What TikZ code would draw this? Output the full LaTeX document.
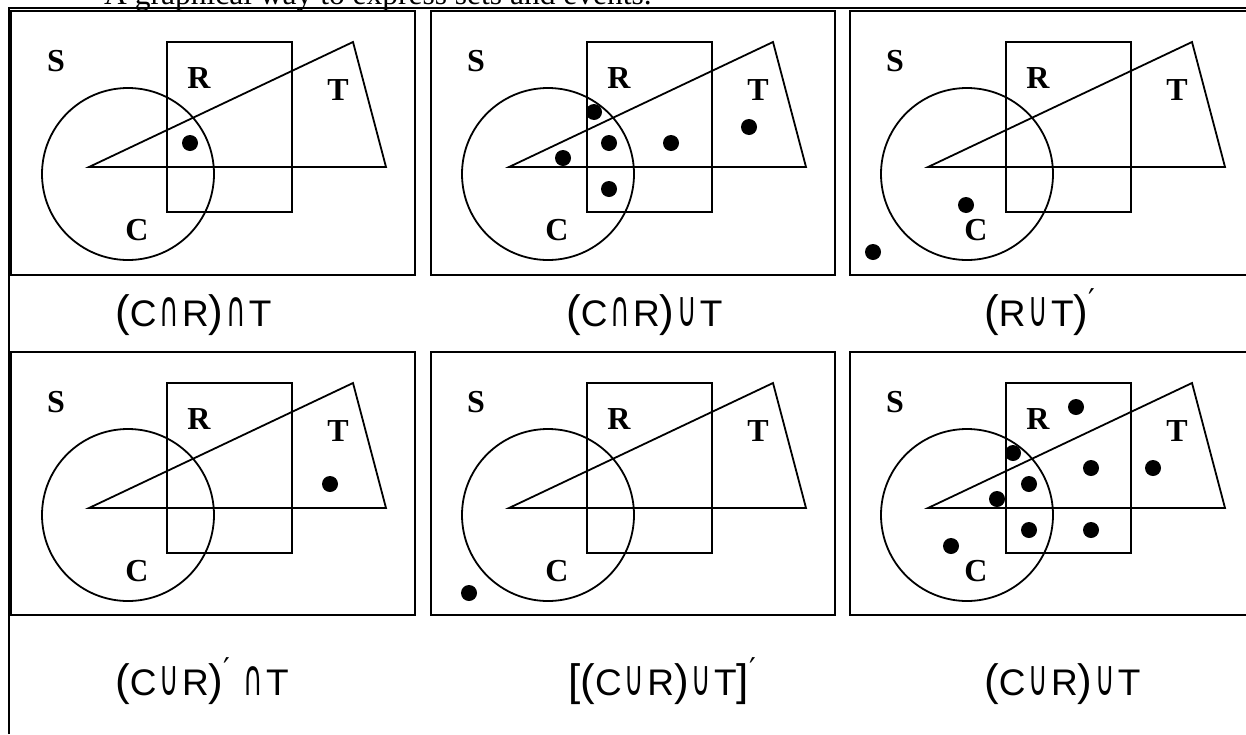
\documentclass[tikz,border=0pt]{standalone}
\usepackage{graphicx}
\usepackage{fontspec}
\setmainfont{Liberation Serif}
\newfontfamily\labfont{Liberation Sans}
\newfontfamily\symfont{DejaVu Sans}
\newcommand{\capx}{\hspace{3pt}\scalebox{0.72}[1.35]{\symfont ∩}\hspace{3pt}}
\newcommand{\cupx}{\hspace{3pt}\scalebox{0.72}[1.35]{\symfont ∪}\hspace{3pt}}
\newcommand{\lpx}{{\fontsize{44}{44}\selectfont(}}
\newcommand{\rpx}{{\fontsize{44}{44}\selectfont)}}
\newcommand{\lbx}{{\fontsize{44}{44}\selectfont[}}
\newcommand{\rbx}{{\fontsize{44}{44}\selectfont]}}
\newcommand{\primex}{\raisebox{0.42em}{\symfont\fontsize{30}{30}\selectfont ′}}
\tikzset{
  shapeline/.style={line width=1.8pt, line join=miter},
  framebox/.style={line width=2.5pt},
  tableline/.style={line width=1.6pt},
  setlab/.style={font=\fontsize{32}{32}\selectfont\bfseries, inner sep=0pt},
  exprlab/.style={font=\labfont\fontsize{37}{37}\selectfont, anchor=base west, inner sep=0pt},
  dot/.style={fill=black},
}
\newcommand{\vennbase}[3]{%
  \begin{scope}[shift={(#2,#3)}]
    \draw[shapeline] (167,42) rectangle (292,212);
    \draw[shapeline] (128,174) circle (86);
    \draw[shapeline] (89,167) -- (353,42) -- (386,167) -- cycle;
    \node[setlab] (#1S) at (56,61) {S};
    \node[setlab] (#1R) at (199,78) {R};
    \node[setlab] (#1T) at (338,90) {T};
    \node[setlab] (#1C) at (137,230) {C};
  \end{scope}}
\begin{document}
\begin{tikzpicture}[x=1pt,y=-1pt]
\useasboundingbox (0,0) rectangle (1246,734);
% heading, mostly cut off at the top
\node[font=\fontsize{31.5}{31.5}\selectfont, anchor=base west, inner sep=0pt] (title) at (104,4) {A graphical way to express sets and events.};
% table border
\draw[tableline] (9,734) -- (9,8) -- (1260,8);
% frames
\draw[framebox] (11,11) rectangle (415,275);
\draw[framebox] (431,11) rectangle (835,275);
\draw[framebox] (850,11) rectangle (1258,275);
\draw[framebox] (11,352) rectangle (415,615);
\draw[framebox] (431,352) rectangle (835,615);
\draw[framebox] (850,352) rectangle (1258,615);
% diagrams
\vennbase{a}{0}{0}
\vennbase{b}{420}{0}
\vennbase{c}{839}{0}
\vennbase{d}{0}{341}
\vennbase{e}{420}{341}
\vennbase{f}{839}{341}
% dots
\begin{scope}
  \fill[dot] (190,143) circle (8);
\end{scope}
\begin{scope}[shift={(420,0)}]
  \foreach \p in {(174,112),(143,158),(189,143),(251,143),(329,127),(189,189)}
    \fill[dot] \p circle (8);
\end{scope}
\begin{scope}[shift={(839,0)}]
  \foreach \p in {(127,205),(34,252)}
    \fill[dot] \p circle (8);
\end{scope}
\begin{scope}[shift={(0,341)}]
  \fill[dot] (330,143) circle (8);
\end{scope}
\begin{scope}[shift={(420,341)}]
  \fill[dot] (49,252) circle (8);
\end{scope}
\begin{scope}[shift={(839,341)}]
  \foreach \p in {(237,66),(174,112),(252,127),(314,127),(190,143),(158,158),(190,189),(252,189),(112,205)}
    \fill[dot] \p circle (8);
\end{scope}
% expressions
\node[exprlab] (e1) at (115,326) {\lpx C\capx R\rpx\capx T};
\node[exprlab] (e2) at (566,326) {\lpx C\capx R\rpx\cupx T};
\node[exprlab] (e3) at (984,326) {\lpx R\cupx T\rpx\primex};
\node[exprlab] (e4) at (115,695) {\lpx C\cupx R\rpx\primex\ \capx T};
\node[exprlab] (e5) at (568,695) {\lbx\lpx C\cupx R\rpx\cupx T\rbx\primex};
\node[exprlab] (e6) at (984,695) {\lpx C\cupx R\rpx\cupx T};
\end{tikzpicture}
\end{document}
